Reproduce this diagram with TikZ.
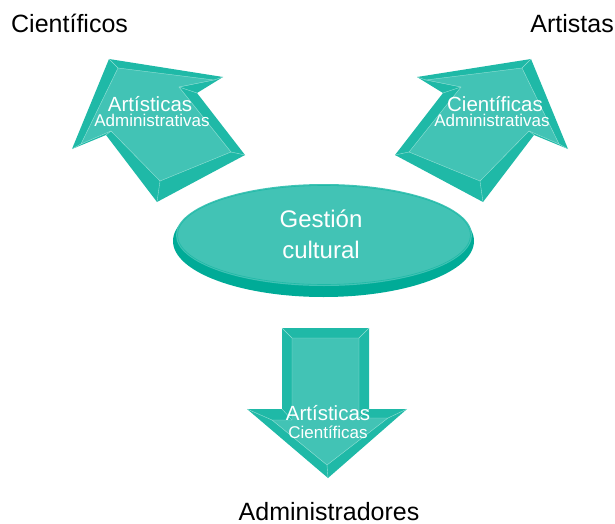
\documentclass[tikz,border=0pt]{standalone}
\usepackage{fontspec}
\setmainfont{Liberation Sans}
\definecolor{bevelteal}{RGB}{31,185,167}
\definecolor{faceteal}{RGB}{66,195,181}
\definecolor{rimteal}{RGB}{0,171,151}
\definecolor{edgeteal}{RGB}{150,224,214}
\begin{document}
\begin{tikzpicture}[x=1pt,y=-1pt,
	bevel/.style={fill=bevelteal},
	face/.style={fill=faceteal,draw=edgeteal,line width=0.4pt},
	edge/.style={draw=edgeteal,line width=0.4pt},
	label/.style={anchor=base,inner sep=0,font=\fontsize{25}{30}\selectfont},
	bigtext/.style={anchor=base,inner sep=0,text=white,font=\fontsize{20.5}{24}\selectfont},
	smalltext/.style={anchor=base,inner sep=0,text=white,font=\fontsize{17}{20}\selectfont},
	gesttext/.style={anchor=base,inner sep=0,text=white,font=\fontsize{24}{30}\selectfont}]
	\useasboundingbox (0,0) rectangle (615,524);
	\fill[rimteal] (323.5,241) ellipse [x radius=150.5,y radius=56];
	\fill[faceteal] (324,235) ellipse [x radius=148,y radius=51];
	\draw[bevelteal,line width=0.6pt] (324,235) ellipse [x radius=146.5,y radius=49.5];
	\foreach \sx/\dx in {1/0,-1/640} {
		\begin{scope}[shift={(\dx,0)},xscale=\sx]
			\fill[bevel] (109,59) -- (223,77) -- (197,93) -- (245,155) -- (157,202) -- (106,135) -- (72,149) -- cycle;
			\path[face] (118,68) -- (214,80) -- (179,87) -- (231,152) -- (160,181) -- (111,131) -- (81,144) -- cycle;
			\draw[edge] (109,59) -- (118,68) (223,77) -- (214,80) (197,93) -- (179,87) (245,155) -- (231,152) (157,202) -- (160,181) (106,135) -- (111,131) (72,149) -- (81,144);
		\end{scope}
	}
	\fill[bevel] (282,328) -- (369,328) -- (369,409) -- (407,409) -- (328,478) -- (247,409) -- (282,409) -- cycle;
	\path[face] (292,338) -- (359,338) -- (359,418) -- (388,418) -- (327,465) -- (272,420) -- (292,420) -- cycle;
	\draw[edge] (282,328) -- (292,338) (369,328) -- (359,338) (369,409) -- (359,418) (407,409) -- (388,418) (328,478) -- (327,465) (247,409) -- (272,420) (282,409) -- (292,420);
	\node[gesttext] (gestion) at (321,227) {Gestión};
	\node[gesttext] (cultural) at (321,258) {cultural};
	\node[bigtext] (artl) at (150,111) {Artísticas};
	\node[smalltext] (adml) at (152,127) {Administrativas};
	\node[bigtext] (cienr) at (495,111) {Científicas};
	\node[smalltext] (admr) at (492,127) {Administrativas};
	\node[bigtext] (artd) at (328,420) {Artísticas};
	\node[smalltext] (ciend) at (328,438) {Científicas};
	\node[label,anchor=base west] (cientificos) at (11,33) {Científicos};
	\node[label,anchor=base east] (artistas) at (614,33) {Artistas};
	\node[label] (administradores) at (329,520) {Administradores};
\end{tikzpicture}
\end{document}
